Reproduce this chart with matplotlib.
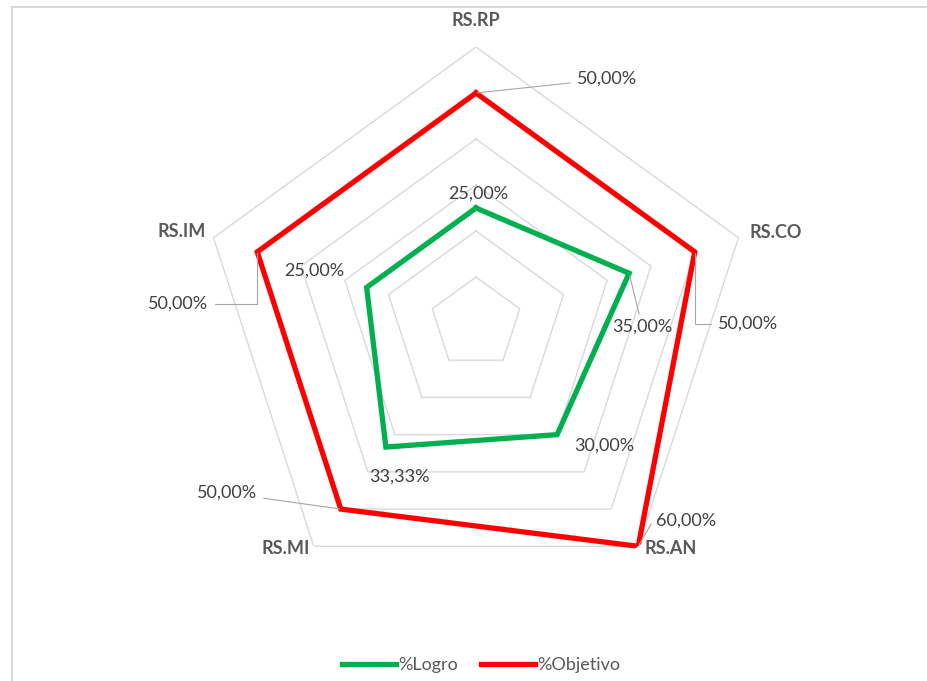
import numpy as np
import matplotlib
matplotlib.use("Agg")
import matplotlib.pyplot as plt
from matplotlib.lines import Line2D

plt.rcParams['font.family'] = ['Lato', 'DejaVu Sans']

categories = ["RS.RP", "RS.CO", "RS.AN", "RS.MI", "RS.IM"]
logro = [25.00, 35.00, 30.00, 33.33, 25.00]
objetivo = [50.00, 50.00, 60.00, 50.00, 50.00]
grid_levels = [10, 20, 30, 40, 50, 60]
r_max = 60

# label offsets (pixels) — layout only
cat_off = [(0, 27), (37, 5), (32, -2), (-28, -2), (-32, 6)]
logro_off = [(2, 14), (13, -53), (47, -11), (14, -30), (-52, 17)]
logro_leader = [False, True, False, False, False]
obj_off = [(131, 14), (53, -72), (48, 26), (-114, 16), (-79, -52)]
obj_conn = ["arc3", "angle,angleA=0,angleB=90,rad=0", "angle,angleA=0,angleB=60,rad=0",
            "arc3", "angle,angleA=0,angleB=90,rad=0"]

W, H = 927, 681
fig = plt.figure(figsize=(W / 100, H / 100), dpi=100)
cx, cy, R = 476, 323, 276
ax = fig.add_axes([(cx - R) / W, (H - cy - R) / H, 2 * R / W, 2 * R / H], projection='polar')
ax.set_theta_offset(np.pi / 2)
ax.set_theta_direction(-1)
ax.set_ylim(0, r_max)
ax.grid(False)
ax.spines['polar'].set_visible(False)
ax.set_xticks([])
ax.set_yticks([])
ax.patch.set_alpha(0)

n = len(categories)
ang = np.linspace(0, 2 * np.pi, n, endpoint=False)
ang_c = np.append(ang, ang[0])

for g in grid_levels:
    ax.plot(ang_c, [g] * (n + 1), color='#d9d9d9', lw=1.0, zorder=1)

green = '#00b050'
red = '#ff0000'
ax.plot(ang_c, logro + logro[:1], color=green, lw=3.8, zorder=3, solid_joinstyle='miter')
ax.plot(ang_c, objetivo + objetivo[:1], color=red, lw=3.8, zorder=3, solid_joinstyle='miter')

fs = 13
lab_col = '#404040'
lead_col = '#a6a6a6'
for a, c, off in zip(ang, categories, cat_off):
    ax.annotate(c, xy=(a, r_max), xytext=off, textcoords='offset pixels',
                ha='center', va='center', fontsize=fs, fontweight='bold', color='#595959')

def fmt(v):
    return f"{v:.2f}".replace('.', ',') + '%'

for a, v, off, lead in zip(ang, logro, logro_off, logro_leader):
    kw = {}
    if lead:
        kw['arrowprops'] = dict(arrowstyle='-', color=lead_col, lw=0.8, shrinkA=1, shrinkB=2)
    ax.annotate(fmt(v), xy=(a, v), xytext=off, textcoords='offset pixels',
                ha='center', va='center', fontsize=fs, color=lab_col, zorder=5, **kw)

for a, v, off, cs in zip(ang, objetivo, obj_off, obj_conn):
    ax.annotate(fmt(v), xy=(a, v), xytext=off, textcoords='offset pixels',
                ha='center', va='center', fontsize=fs, color=lab_col, zorder=5,
                arrowprops=dict(arrowstyle='-', color=lead_col, lw=0.8, shrinkA=3, shrinkB=1,
                                connectionstyle=cs))

handles = [Line2D([], [], color=green, lw=3.8), Line2D([], [], color=red, lw=3.8)]
fig.legend(handles, ["%Logro", "%Objetivo"], loc='center', bbox_to_anchor=(481 / W, 1 - 665 / H),
           ncol=2, frameon=False, fontsize=fs, handlelength=3.0, handletextpad=0.1,
           columnspacing=1.3, labelcolor='#595959')

# chart border lines (top and left)
fig.add_artist(Line2D([12 / W, 1], [1 - 7 / H, 1 - 7 / H], color='#d0d0d0', lw=1.2))
fig.add_artist(Line2D([12 / W, 12 / W], [0, 1 - 7 / H], color='#d0d0d0', lw=1.2))

fig.savefig("out.png", dpi=100)
